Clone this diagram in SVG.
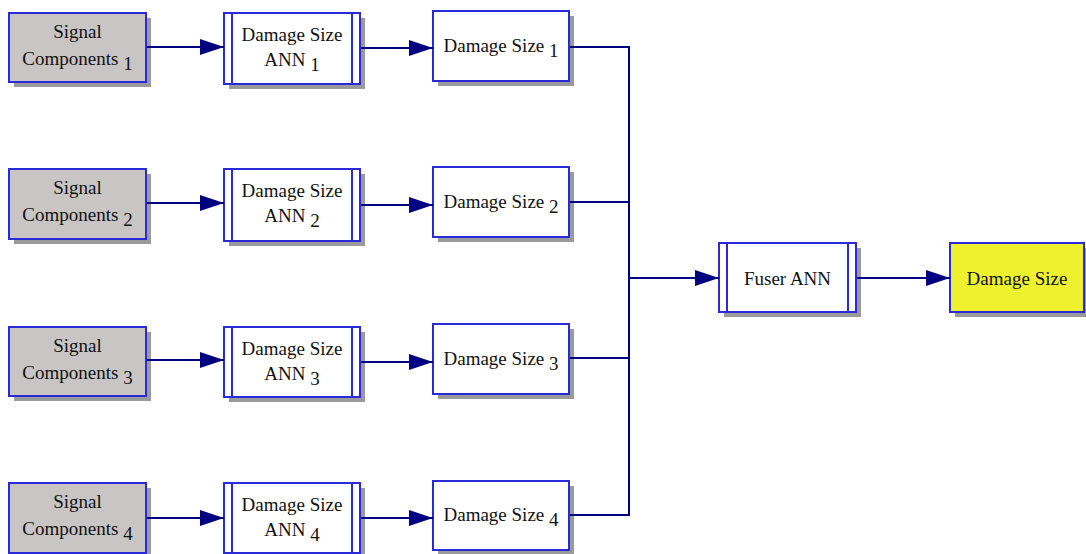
<svg xmlns="http://www.w3.org/2000/svg" width="1086" height="554" viewBox="0 0 1086 554">
<defs>
<style>
.sh{fill:#9a9a9a}
.box{stroke:#2a2ad8;stroke-width:2}
.sig{fill:#c9c5c5}
.wh{fill:#ffffff}
.yl{fill:#eef22e}
.in{stroke:#2a2ad8;stroke-width:2}
.t{font-size:19px;fill:#111;text-anchor:middle}
.c{stroke:#000080;stroke-width:2;fill:none}
</style>
<marker id="ah" viewBox="0 0 24 16" refX="24" refY="8" markerWidth="24" markerHeight="16" markerUnits="userSpaceOnUse" orient="auto">
<path d="M0,0 L24,8 L0,16 Z" fill="#000080"/>
</marker>
</defs>
<rect width="1086" height="554" fill="#ffffff"/>

<g font-family="'Liberation Serif', 'DejaVu Serif', serif">
<g id="sig1">
<rect class="sh" x="14" y="18" width="137" height="69"/>
<rect class="box sig" x="9" y="13" width="137" height="69"/>
<text class="t" x="77.5" y="38">Signal</text>
<text class="t" x="77.5" y="65">Components <tspan dy="5">1</tspan></text>
</g>
<g id="sig2">
<rect class="sh" x="14" y="174" width="137" height="70"/>
<rect class="box sig" x="9" y="169" width="137" height="70"/>
<text class="t" x="77.5" y="194">Signal</text>
<text class="t" x="77.5" y="221">Components <tspan dy="5">2</tspan></text>
</g>
<g id="sig3">
<rect class="sh" x="14" y="332" width="137" height="69"/>
<rect class="box sig" x="9" y="327" width="137" height="69"/>
<text class="t" x="77.5" y="352">Signal</text>
<text class="t" x="77.5" y="379">Components <tspan dy="5">3</tspan></text>
</g>
<g id="sig4">
<rect class="sh" x="14" y="488" width="137" height="70"/>
<rect class="box sig" x="9" y="483" width="137" height="70"/>
<text class="t" x="77.5" y="508">Signal</text>
<text class="t" x="77.5" y="535">Components <tspan dy="5">4</tspan></text>
</g>

<g id="ann1">
<rect class="sh" x="229" y="18" width="136" height="71"/>
<rect class="box wh" x="224" y="13" width="136" height="71"/>
<path class="in" d="M232,13 V84 M352,13 V84"/>
<text class="t" x="292" y="41">Damage Size</text>
<text class="t" x="292" y="66">ANN <tspan dy="5">1</tspan></text>
</g>
<g id="ann2">
<rect class="sh" x="229" y="174" width="136" height="72"/>
<rect class="box wh" x="224" y="169" width="136" height="72"/>
<path class="in" d="M232,169 V241 M352,169 V241"/>
<text class="t" x="292" y="197">Damage Size</text>
<text class="t" x="292" y="222">ANN <tspan dy="5">2</tspan></text>
</g>
<g id="ann3">
<rect class="sh" x="229" y="332" width="136" height="70"/>
<rect class="box wh" x="224" y="327" width="136" height="70"/>
<path class="in" d="M232,327 V397 M352,327 V397"/>
<text class="t" x="292" y="355">Damage Size</text>
<text class="t" x="292" y="380">ANN <tspan dy="5">3</tspan></text>
</g>
<g id="ann4">
<rect class="sh" x="229" y="488" width="136" height="70"/>
<rect class="box wh" x="224" y="483" width="136" height="70"/>
<path class="in" d="M232,483 V553 M352,483 V553"/>
<text class="t" x="292" y="511">Damage Size</text>
<text class="t" x="292" y="536">ANN <tspan dy="5">4</tspan></text>
</g>

<g id="ds1">
<rect class="sh" x="438" y="16" width="136" height="70"/>
<rect class="box wh" x="433" y="11" width="136" height="70"/>
<text class="t" x="501" y="52">Damage Size <tspan dy="5">1</tspan></text>
</g>
<g id="ds2">
<rect class="sh" x="438" y="172" width="136" height="70"/>
<rect class="box wh" x="433" y="167" width="136" height="70"/>
<text class="t" x="501" y="208">Damage Size <tspan dy="5">2</tspan></text>
</g>
<g id="ds3">
<rect class="sh" x="438" y="329" width="136" height="70"/>
<rect class="box wh" x="433" y="324" width="136" height="70"/>
<text class="t" x="501" y="365">Damage Size <tspan dy="5">3</tspan></text>
</g>
<g id="ds4">
<rect class="sh" x="438" y="486" width="136" height="69"/>
<rect class="box wh" x="433" y="481" width="136" height="69"/>
<text class="t" x="501" y="521">Damage Size <tspan dy="5">4</tspan></text>
</g>

<g id="fuser">
<rect class="sh" x="724" y="248" width="137" height="69"/>
<rect class="box wh" x="719" y="243" width="137" height="69"/>
<path class="in" d="M727,243 V312 M848,243 V312"/>
<text class="t" x="787.5" y="285">Fuser ANN</text>
</g>
<g id="output">
<rect class="sh" x="955" y="248" width="134" height="69"/>
<rect class="box yl" x="950" y="243" width="134" height="69"/>
<text class="t" x="1017" y="285">Damage Size</text>
</g>
</g>

<g id="connectors">
<path class="c" d="M147,47 H224" marker-end="url(#ah)"/>
<path class="c" d="M147,203 H224" marker-end="url(#ah)"/>
<path class="c" d="M147,360 H224" marker-end="url(#ah)"/>
<path class="c" d="M147,518 H224" marker-end="url(#ah)"/>
<path class="c" d="M361,48 H433" marker-end="url(#ah)"/>
<path class="c" d="M361,205 H433" marker-end="url(#ah)"/>
<path class="c" d="M361,362 H433" marker-end="url(#ah)"/>
<path class="c" d="M361,518 H433" marker-end="url(#ah)"/>
<path class="c" d="M570,47 H629 V515 H570"/>
<path class="c" d="M570,202 H629"/>
<path class="c" d="M570,358 H629"/>
<path class="c" d="M629,278 H719" marker-end="url(#ah)"/>
<path class="c" d="M857,278 H950" marker-end="url(#ah)"/>
</g>
</svg>
